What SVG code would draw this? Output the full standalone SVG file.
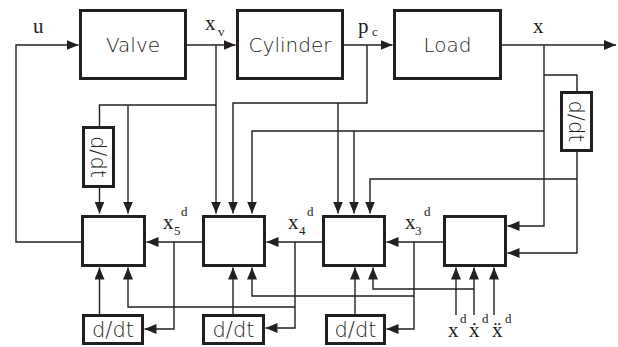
<svg xmlns="http://www.w3.org/2000/svg" width="618" height="347" viewBox="0 0 618 347">
<style>
.box{fill:#fff;stroke:#231f20;stroke-width:3}
.ln{fill:none;stroke:#231f20;stroke-width:1.4}
.ar{fill:none;stroke:#231f20;stroke-width:1.4;marker-end:url(#ah)}
.t{font-family:"DejaVu Sans","Liberation Sans",sans-serif;font-weight:300;font-size:20px;fill:#231f20;text-anchor:middle}
.d{font-family:"DejaVu Sans","Liberation Sans",sans-serif;font-weight:300;font-size:21px;fill:#231f20;text-anchor:middle}
.s{font-family:"Liberation Serif","DejaVu Serif",serif;font-size:21px;fill:#231f20}
.sb{font-family:"Liberation Serif","DejaVu Serif",serif;font-size:13px;fill:#231f20}
</style>
<defs>
<marker id="ah" markerUnits="userSpaceOnUse" markerWidth="12" markerHeight="10" refX="12" refY="5" orient="auto">
<path d="M0,0 L12,5 L0,10 z" fill="#231f20"/>
</marker>
</defs>
<rect width="618" height="347" fill="#fff"/>
<g id="connectors">
<path class="ar" d="M81,242 H16 V45 H78.5"/>
<path class="ar" d="M187,45 H235.5"/>
<path class="ar" d="M344,45 H392.5"/>
<path class="ar" d="M502,45 H616"/>
<path class="ar" d="M216,45 V213.5"/>
<path class="ln" d="M216,105 H99.5 V126"/>
<path class="ar" d="M128,105 V213.5"/>
<path class="ar" d="M99.5,188 V213.5"/>
<path class="ar" d="M367,45 V103 H233 V213.5"/>
<path class="ar" d="M338,103 V213.5"/>
<path class="ar" d="M544,45 V226 H507.5"/>
<path class="ar" d="M544,131 H252 V213.5"/>
<path class="ar" d="M354,131 V213.5"/>
<path class="ln" d="M544,75 H577 V91"/>
<path class="ar" d="M577,152 V253 H507.5"/>
<path class="ar" d="M577,179 H370 V213.5"/>
<path class="ar" d="M443,242 H386.5"/>
<path class="ar" d="M414,242 V329 H386.5"/>
<path class="ar" d="M414,296 H252 V267.5"/>
<path class="ar" d="M322,242 H266.5"/>
<path class="ar" d="M295,242 V328 H265.5"/>
<path class="ar" d="M295,307 H128 V267.5"/>
<path class="ar" d="M202,242 H146.5"/>
<path class="ar" d="M174,242 V329 H144.5"/>
<path class="ar" d="M99.5,314 V267.5"/>
<path class="ar" d="M233,314 V267.5"/>
<path class="ar" d="M355,314 V267.5"/>
<path class="ar" d="M474,289 H373 V267.5"/>
<path class="ar" d="M456,315 V267.5"/>
<path class="ar" d="M474,315 V267.5"/>
<path class="ar" d="M494,315 V267.5"/>
</g>
<g id="valve"><rect class="box" x="80.5" y="10.5" width="105" height="68"/><text class="t" x="133" y="52">Valve</text></g>
<g id="cylinder"><rect class="box" x="237.5" y="10.5" width="105" height="68"/><text class="t" x="290" y="52">Cylinder</text></g>
<g id="load"><rect class="box" x="394.5" y="10.5" width="106" height="68"/><text class="t" x="447.5" y="52">Load</text></g>
<g id="block5"><rect class="box" x="82.5" y="216.5" width="62" height="49"/></g>
<g id="block4"><rect class="box" x="203.5" y="216.5" width="61" height="49"/></g>
<g id="block3"><rect class="box" x="323.5" y="216.5" width="61" height="49"/></g>
<g id="block2"><rect class="box" x="444.5" y="216.5" width="61" height="49"/></g>
<g id="ddt-xv"><rect class="box" x="83.5" y="127.5" width="30" height="59"/><text class="d" transform="translate(98.5,157) rotate(90)" x="0" y="7.5">d/dt</text></g>
<g id="ddt-x"><rect class="box" x="561.5" y="92.5" width="30" height="58"/><text class="d" transform="translate(576.5,121.5) rotate(90)" x="0" y="7.5">d/dt</text></g>
<g id="ddt5"><rect class="box" x="83.5" y="315.5" width="59" height="28"/><text class="d" x="113" y="337">d/dt</text></g>
<g id="ddt4"><rect class="box" x="203.5" y="315.5" width="60" height="28"/><text class="d" x="233.5" y="337">d/dt</text></g>
<g id="ddt3"><rect class="box" x="326.5" y="315.5" width="58" height="28"/><text class="d" x="355.5" y="337">d/dt</text></g>
<g id="labels">
<text class="s" x="33" y="33">u</text>
<text class="s" x="205" y="30">x</text><text class="sb" x="218" y="36">v</text>
<text class="s" x="358" y="33">p</text><text class="sb" x="372" y="36">c</text>
<text class="s" x="533" y="33">x</text>
<text class="s" x="163" y="229">x</text><text class="sb" x="174" y="235">5</text><text class="sb" x="181" y="216">d</text>
<text class="s" x="288" y="229">x</text><text class="sb" x="299" y="235">4</text><text class="sb" x="307" y="216">d</text>
<text class="s" x="405" y="229">x</text><text class="sb" x="415" y="235">3</text><text class="sb" x="424" y="216">d</text>
<text class="s" x="448" y="337">x</text><text class="sb" x="460" y="323">d</text>
<text class="s" x="469" y="337">ẋ</text><text class="sb" x="482" y="323">d</text>
<text class="s" x="492" y="337">ẍ</text><text class="sb" x="505" y="323">d</text>
</g>
</svg>
